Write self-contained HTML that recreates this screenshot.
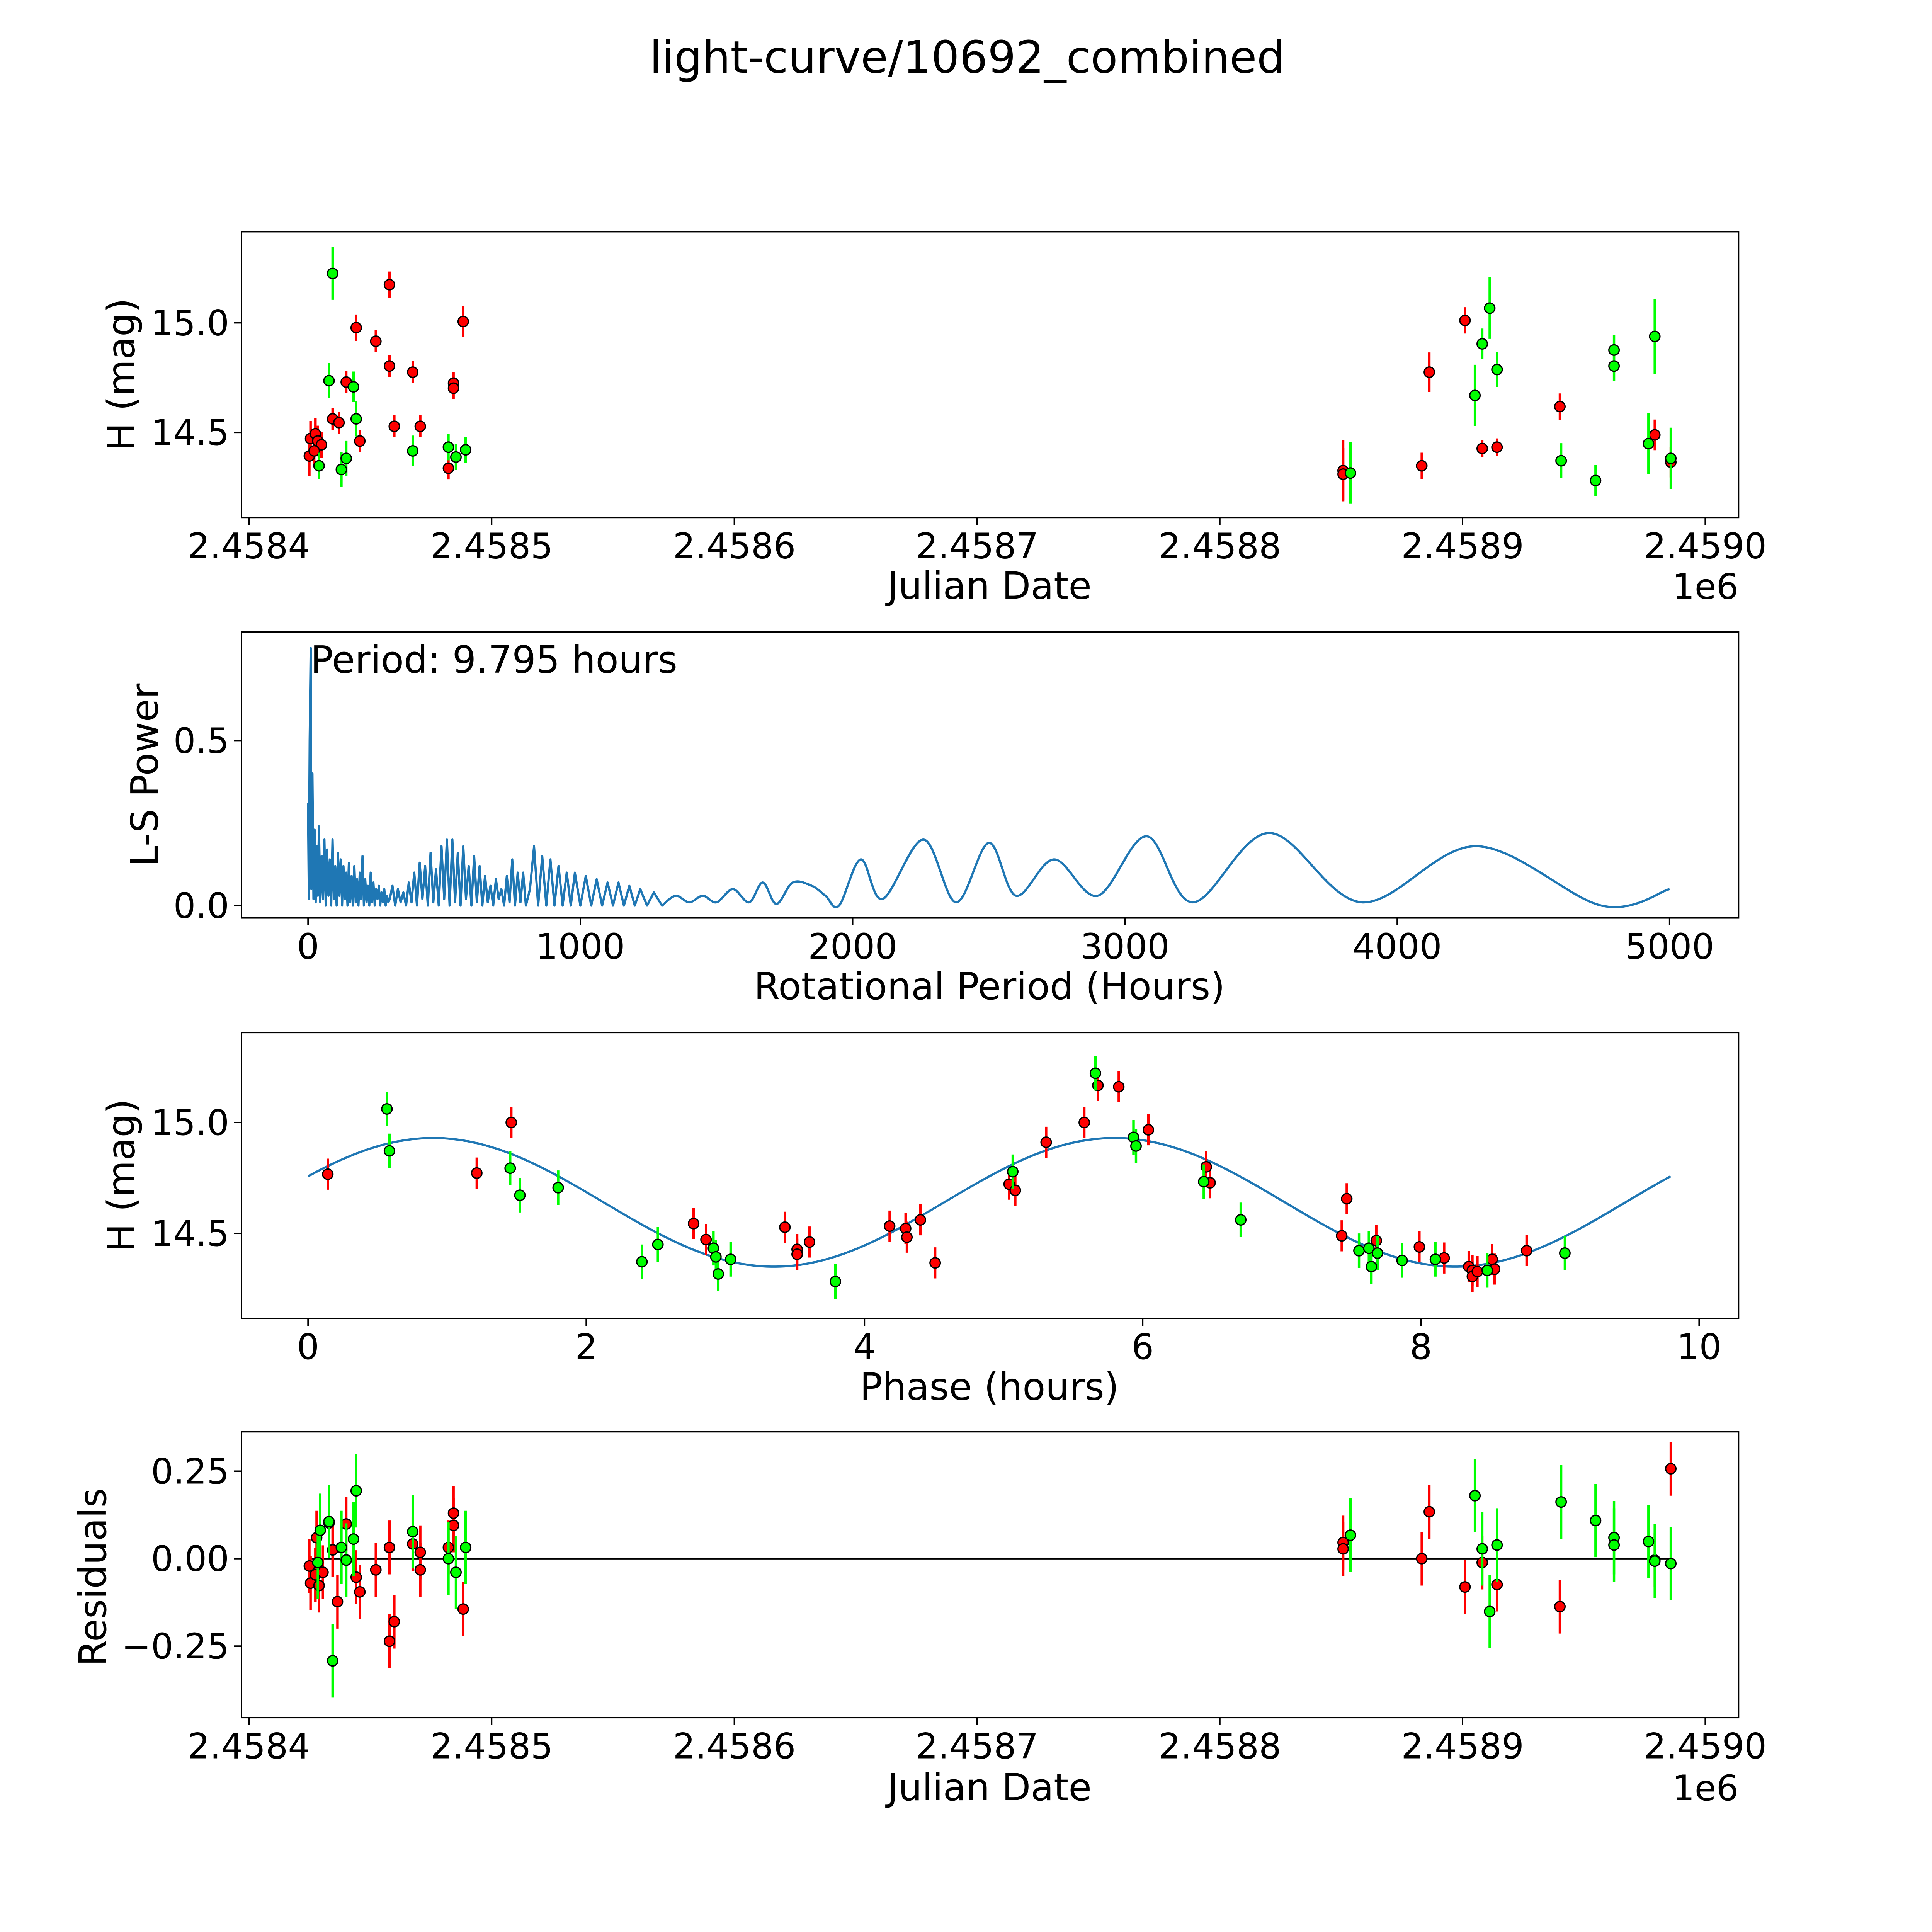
<!DOCTYPE html>
<html><head><meta charset="utf-8"><style>
html,body{margin:0;padding:0;background:#fff;width:100%;height:100%;overflow:hidden;}
svg{display:block;width:100vw;height:100vh;}
text{font-family:"DejaVu Sans","Liberation Sans",sans-serif;fill:#000;}
</style></head><body>
<svg id="fig" viewBox="0 0 1568 1568" preserveAspectRatio="xMidYMid meet" xmlns="http://www.w3.org/2000/svg">
<rect width="1568" height="1568" fill="#fff"/>
<text x="785" y="59" font-size="36" text-anchor="middle">light-curve/10692_combined</text>
<g id="layer"></g>
</svg>
<script>
// ---- Panel 1: light curve (JD offset from 2458400, magnitude, error)
const lcGreenJd=[34.5,33.0,43.1,44.2,38.1,40.1,28.9,67.5,82.2,85.3,89.3,505.1,508.1,511.2,514.2,453.8,540.6,554.8,562.4,562.4,576.6,579.2,585.8];
const lcGreenMag=[15.225,14.736,14.708,14.562,14.331,14.382,14.348,14.416,14.433,14.388,14.421,14.669,14.904,15.067,14.787,14.315,14.371,14.281,14.876,14.803,14.449,14.938,14.382];
const lcGreenErr=[0.12,0.08,0.07,0.08,0.08,0.08,0.06,0.07,0.06,0.06,0.06,0.14,0.07,0.14,0.08,0.14,0.08,0.07,0.07,0.07,0.14,0.17,0.14];
const lcRedJd=[57.9,44.2,52.3,57.9,67.5,84.3,84.3,88.3,40.1,34.5,37.1,45.7,59.9,70.6,82.2,24.9,25.4,27.4,28.4,29.9,26.9,450.8,450.8,483.2,486.3,501.0,508.1,514.2,540.1,579.2,585.8];
const lcRedMag=[15.174,14.978,14.916,14.803,14.775,14.725,14.702,15.006,14.730,14.562,14.545,14.461,14.528,14.528,14.337,14.393,14.472,14.494,14.461,14.444,14.416,14.326,14.31,14.348,14.775,15.011,14.427,14.433,14.618,14.489,14.365];
const lcRedErr=[0.06,0.06,0.05,0.05,0.05,0.05,0.05,0.07,0.05,0.05,0.05,0.05,0.05,0.05,0.05,0.09,0.08,0.07,0.07,0.06,0.06,0.14,0.12,0.06,0.09,0.06,0.04,0.04,0.06,0.07,0.07];
const jdTicks=["2.4584","2.4585","2.4586","2.4587","2.4588","2.4589","2.4590"];
const jdTickVals=[0,100,200,300,400,500,600];
const magTicks=["14.5","15.0"];
const magTickVals=[14.5,15.0];
// ---- Panel 2: periodogram (dense part)
const lsPeriodFine=[0,3,6,9.8,12,16,20,24,28,32,36,
40,45,50,55,60,65,70,75,80,85,
90,95,100,105,110,115,120,125,130,135,
140,145,150,155,160,165,170,175,180,185,
190,195,200,205,210,215,220,225,230,235,
240,245,250,255,260,265,270,275,280,285,
290,295,300,
310,320,330,340,350,360,370,380,390,400,
410,420,430,440,450,460,470,480,490,500,
510,520,530,540,550,560,570,580,590,600,
610,620,630,640,650,660,670,680,690,700,
710,720,730,740,750,760,770,780,790,800,
815,830,845,860,875,890,905,920,935,950,965,980,
1000,1020,1040,1060,1080,1100,1120,1140,1160,1180,1200,1220,
1245,1270,1300];
const lsPowerFine=[0.31,0.02,0.5,0.78,0.05,0.4,0.02,0.23,0.01,0.18,0.03,
0.24,0.01,0.15,0.02,0.2,0.0,0.17,0.03,0.14,0.0,
0.2,0.02,0.12,0.0,0.16,0.03,0.14,0.0,0.12,0.02,
0.1,0.0,0.13,0.01,0.09,0.0,0.12,0.01,0.08,0.0,
0.1,0.02,0.15,0.0,0.08,0.01,0.06,0.0,0.1,0.01,
0.07,0.0,0.05,0.02,0.06,0.0,0.04,0.01,0.05,0.0,
0.03,0.01,0.02,
0.06,0.0,0.05,0.01,0.04,0.0,0.07,0.01,0.1,0.0,
0.13,0.02,0.12,0.0,0.16,0.01,0.11,0.0,0.18,0.02,
0.2,0.0,0.2,0.01,0.16,0.0,0.18,0.02,0.12,0.0,
0.15,0.01,0.12,0.0,0.09,0.01,0.06,0.0,0.08,0.02,
0.05,0.0,0.09,0.01,0.14,0.0,0.1,0.01,0.1,0.0,
0.05,0.18,0.0,0.15,0.0,0.14,0.0,0.12,0.0,0.1,0.0,0.1,
0.0,0.09,0.0,0.08,0.0,0.07,0.0,0.07,0.0,0.06,0.0,0.05,
0.0,0.04,0.0];
// periodogram (smooth long-period part)
const lsPeriodSmooth=[1300,1350,1400,1450,1500,1560,1620,1670,1720,1780,1850,1900,1950,2030,2110,2260,2380,2500,2600,2740,2900,3080,3250,3530,3870,4290,4750,5000];
const lsPowerSmooth=[0.0,0.03,0.01,0.03,0.01,0.05,0.01,0.07,0.005,0.07,0.06,0.03,0.0,0.14,0.02,0.2,0.01,0.19,0.03,0.14,0.03,0.21,0.01,0.22,0.01,0.18,0.0,0.05];
const lsTicks=["0","1000","2000","3000","4000","5000"];
const lsTickVals=[0,1000,2000,3000,4000,5000];
const powTicks=["0.0","0.5"];
const powTickVals=[0,0.5];
// ---- Panel 3: phased
const phRedPhase=[0.142,1.213,1.461,2.772,2.861,3.428,3.516,3.516,3.605,4.181,4.296,4.305,4.402,4.508,5.040,5.084,5.306,5.580,5.678,5.828,6.041,6.457,6.484,7.467,7.431,7.679,7.989,8.167,8.344,8.370,8.370,8.406,8.512,8.530,8.760];
const phRedMag=[14.767,14.772,15.0,14.544,14.472,14.528,14.428,14.406,14.461,14.533,14.522,14.483,14.561,14.367,14.722,14.694,14.911,15.0,15.167,15.161,14.967,14.8,14.728,14.656,14.489,14.467,14.439,14.389,14.35,14.333,14.306,14.328,14.383,14.339,14.422];
const phGreenPhase=[0.567,0.585,1.453,1.523,1.798,2.400,2.515,2.914,2.932,2.949,3.038,3.791,5.066,5.660,5.934,5.952,6.439,6.705,7.555,7.626,7.644,7.688,7.865,8.104,8.477,9.035];
const phGreenMag=[15.061,14.872,14.794,14.672,14.706,14.372,14.45,14.433,14.394,14.317,14.383,14.283,14.778,15.222,14.933,14.894,14.733,14.561,14.422,14.433,14.35,14.411,14.378,14.383,14.333,14.411];
const phTicks=["0","2","4","6","8","10"];
const phTickVals=[0,2,4,6,8,10];
const fitMean=14.64, fitAmp=0.29, fitPeriod=4.8975, fitPeak=0.9, bestPeriod=9.795;
// ---- Panel 4: residuals
const resRedJd=[24.9,25.4,27.4,27.9,28.9,30.5,33.0,34.5,36.5,40.1,44.2,45.7,52.3,57.9,57.9,59.9,67.5,70.6,70.6,82.2,84.3,84.3,88.3,450.8,450.8,483.2,486.3,501.0,508.1,514.2,540.1,579.2,585.8];
const resRedVal=[-0.021,-0.070,-0.046,0.060,-0.077,-0.039,0.102,0.025,-0.123,0.099,-0.053,-0.095,-0.032,0.032,-0.236,-0.180,0.042,0.018,-0.032,0.032,0.095,0.130,-0.144,0.046,0.028,0.0,0.134,-0.081,-0.011,-0.074,-0.137,-0.004,0.257];
const resGreenJd=[28.4,29.4,33.0,34.5,38.1,40.1,43.1,44.2,67.5,82.2,85.3,89.3,453.8,505.1,508.1,511.2,514.2,540.6,554.8,562.4,562.4,576.6,579.2,585.8];
const resGreenVal=[-0.011,0.081,0.106,-0.292,0.032,-0.004,0.056,0.194,0.077,0.0,-0.039,0.032,0.067,0.180,0.028,-0.151,0.039,0.162,0.109,0.060,0.039,0.049,-0.007,-0.014];
const resTicks=["0.25","0.00","\u22120.25"];
const resTickVals=[0.25,0,-0.25];

const NS="http://www.w3.org/2000/svg";
const layer=document.getElementById('layer');
function mk(tag,attrs,parent){const e=document.createElementNS(NS,tag);for(const k in attrs)e.setAttribute(k,attrs[k]);(parent||layer).appendChild(e);return e;}

const TICKFS=28.5, LABELFS=30.5;
// axis functions
const X1=d=>202+d*1.97;
const Y1=m=>351-(m-14.5)*178;
const X2=p=>250+p*0.221;
const Y2=v=>735-v*268;
const X3=p=>250+p*112.9;
const Y3=m=>1001-(m-14.5)*180;
const Y4=r=>1265-r*284;

function frame(name,y0,y1){
  const r=mk('rect',{x:196,y:y0,width:1215,height:y1-y0,fill:'none',stroke:'#000','stroke-width':1.2});
  
  
}
function xticks(vals,labels,fx,yb,name){
  const g=mk('g',{});
  
  
  vals.forEach((v,i)=>{const x=fx(v);
    mk('line',{x1:x,x2:x,y1:yb,y2:yb+6,stroke:'#000','stroke-width':1.2},g);
    const t=mk('text',{x:x,y:yb+33,'font-size':TICKFS,'text-anchor':'middle'},g);t.textContent=labels[i];});
}
function yticks(vals,labels,fy,name){
  const g=mk('g',{});
  
  
  vals.forEach((v,i)=>{const y=fy(v);
    mk('line',{x1:190,x2:196,y1:y,y2:y,stroke:'#000','stroke-width':1.2},g);
    const t=mk('text',{x:186,y:y+10,'font-size':TICKFS,'text-anchor':'end'},g);t.textContent=labels[i];});
}
function label(txt,x,y,rot,name){
  const t=mk('text',{x:x,y:y,'font-size':LABELFS,'text-anchor':'middle'});
  if(rot)t.setAttribute('transform','rotate(-90 '+x+' '+y+')');
  t.textContent=txt;
  
  
}
function points(xs,ys,errs,fx,fy,color,escale,name){
  const g=mk('g',{});
  
  
  const n=Math.min(xs.length,ys.length);
  for(let i=0;i<n;i++){const x=fx(xs[i]),y=fy(ys[i]);const e=(errs?errs[i]:0.07)*escale;
    mk('line',{x1:x,x2:x,y1:y-e,y2:y+e,stroke:color,'stroke-width':2},g);}
  for(let i=0;i<n;i++){
    const c=mk('circle',{cx:fx(xs[i]),cy:fy(ys[i]),r:4.2,fill:color,stroke:'#000','stroke-width':1},g);
    
    
  }
}
const RED='#ff0000',GREEN='#00ff00';

// Panel 1
frame('lightcurve-axes',188,420);
points(lcRedJd,lcRedMag,lcRedErr,X1,Y1,RED,178,'red-series');
points(lcGreenJd,lcGreenMag,lcGreenErr,X1,Y1,GREEN,178,'green-series');
xticks(jdTickVals,jdTicks,X1,420,'x-ticks-jd');
yticks(magTickVals,magTicks,Y1,'y-ticks-mag');
label('Julian Date',803,486,false,'x-axis-title');
label('H (mag)',109,304,true,'y-axis-title');
{const t=mk('text',{x:1411,y:486,'font-size':TICKFS,'text-anchor':'end'});t.textContent='1e6';}

// Panel 2
frame('periodogram-axes',513,745);
{let d='';const n=Math.min(lsPeriodFine.length,lsPowerFine.length);
 for(let i=0;i<n;i++){d+=(i?'L':'M')+X2(lsPeriodFine[i]).toFixed(2)+' '+Y2(lsPowerFine[i]).toFixed(2);}
 const m=Math.min(lsPeriodSmooth.length,lsPowerSmooth.length);
 const P=[];for(let i=0;i<m;i++)P.push([X2(lsPeriodSmooth[i]),Y2(lsPowerSmooth[i])]);
 d+='L'+P[0][0].toFixed(2)+' '+P[0][1].toFixed(2);
 for(let i=0;i<m-1;i++){const p0=P[Math.max(0,i-1)],p1=P[i],p2=P[i+1],p3=P[Math.min(m-1,i+2)];
   const c1x=p1[0]+(p2[0]-p0[0])/6,c1y=p1[1]+(p2[1]-p0[1])/6,c2x=p2[0]-(p3[0]-p1[0])/6,c2y=p2[1]-(p3[1]-p1[1])/6;
   d+='C'+c1x.toFixed(2)+' '+c1y.toFixed(2)+' '+c2x.toFixed(2)+' '+c2y.toFixed(2)+' '+p2[0].toFixed(2)+' '+p2[1].toFixed(2);}
 const p=mk('path',{d:d,fill:'none',stroke:'#1f77b4','stroke-width':1.8,'stroke-linejoin':'round'});
 }
xticks(lsTickVals,lsTicks,X2,745,'x-ticks-period');
yticks(powTickVals,powTicks,Y2,'y-ticks-power');
label('Rotational Period (Hours)',803,811,false,'x-axis-title-period');
label('L-S Power',128,629,true,'y-axis-title-power');
{const t=mk('text',{x:252,y:546,'font-size':LABELFS});t.textContent='Period: '+bestPeriod.toFixed(3)+' hours';}

// Panel 3
frame('phase-axes',838,1070);
{let d='';for(let i=0;i<=300;i++){const p=bestPeriod*i/300;const m=fitMean+fitAmp*Math.cos(2*Math.PI*(p-fitPeak)/fitPeriod);d+=(i?'L':'M')+X3(p).toFixed(2)+' '+Y3(m).toFixed(2);}
 const p=mk('path',{d:d,fill:'none',stroke:'#1f77b4','stroke-width':1.8});
 }
points(phRedPhase,phRedMag,null,X3,Y3,RED,180,'red-phase-series');
points(phGreenPhase,phGreenMag,null,X3,Y3,GREEN,200,'green-phase-series');
xticks(phTickVals,phTicks,X3,1070,'x-ticks-phase');
yticks(magTickVals,magTicks,Y3,'y-ticks-mag-phase');
label('Phase (hours)',803,1136,false,'x-axis-title-phase');
label('H (mag)',109,954,true,'y-axis-title-phase');

// Panel 4
frame('residuals-axes',1162,1394);
{const l=mk('line',{x1:X1(24.9),x2:X1(585.8),y1:Y4(0),y2:Y4(0),stroke:'#000','stroke-width':1.3});}
points(resRedJd,resRedVal,null,X1,Y4,RED,284*1.1,'red-residuals');
points(resGreenJd,resGreenVal,null,X1,Y4,GREEN,284*1.5,'green-residuals');
xticks(jdTickVals,jdTicks,X1,1394,'x-ticks-jd-res');
yticks(resTickVals,resTicks,Y4,'y-ticks-res');
label('Julian Date',803,1461,false,'x-axis-title-res');
label('Residuals',86,1280,true,'y-axis-title-res');
{const t=mk('text',{x:1411,y:1461,'font-size':TICKFS,'text-anchor':'end'});t.textContent='1e6';}
</script>
</body></html>
